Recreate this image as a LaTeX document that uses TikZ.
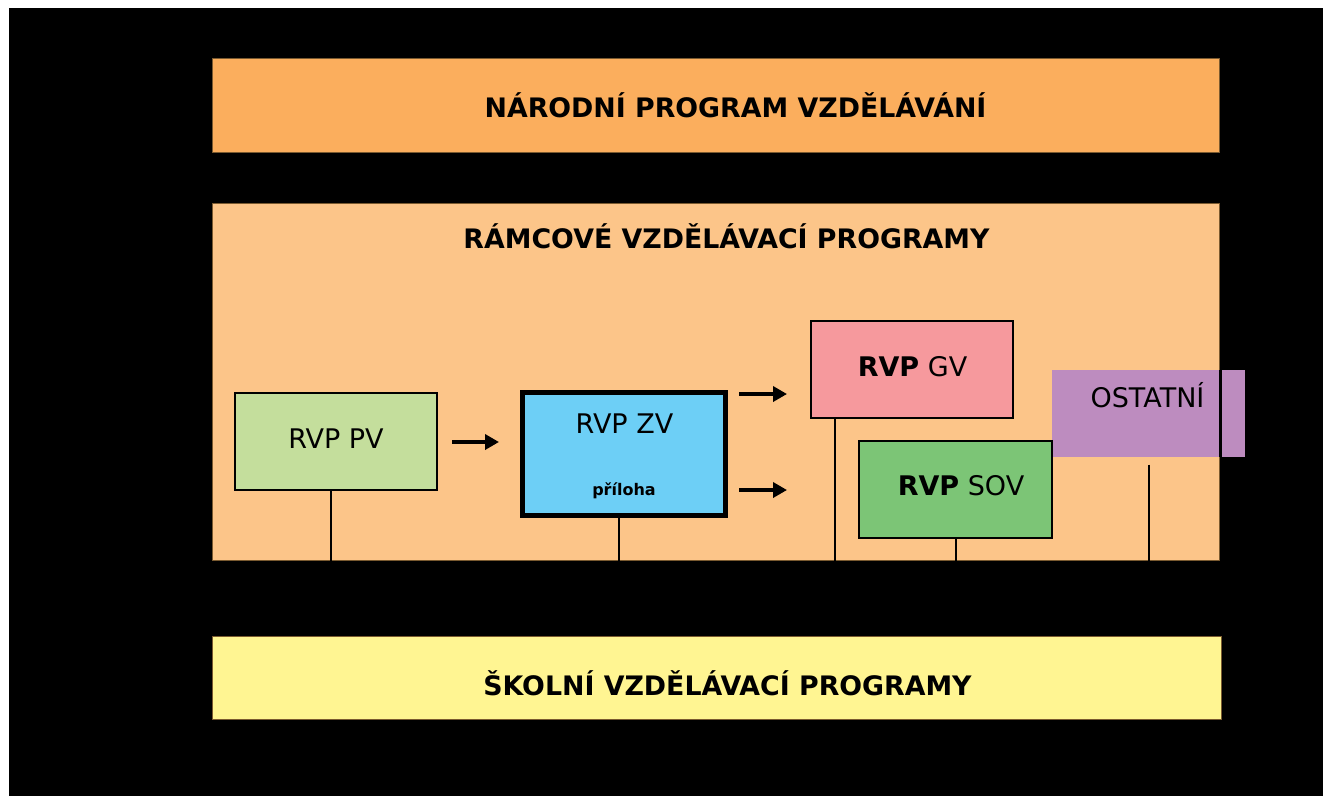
\documentclass[tikz,border=0pt]{standalone}
\usepackage{fontspec}
\setmainfont{DejaVu Sans}
\usetikzlibrary{arrows.meta}
\definecolor{npvc}{HTML}{FBAE5D}
\definecolor{rvpc}{HTML}{FCC589}
\definecolor{svpc}{HTML}{FFF592}
\definecolor{pvc}{HTML}{C4DE9C}
\definecolor{zvc}{HTML}{6DCFF6}
\definecolor{gvc}{HTML}{F6999D}
\definecolor{sovc}{HTML}{7CC576}
\definecolor{ostc}{HTML}{BD8CBF}
\definecolor{edgec}{HTML}{7A5A30}
\begin{document}
\begin{tikzpicture}[x=1pt,y=-1pt,
  bigbox/.style={draw=edgec,line width=1pt,inner sep=0pt,rectangle},
  sbox/.style={draw=black,line width=2.5pt,inner sep=0pt,rectangle},
  ttl/.style={font=\bfseries\fontsize{26.8}{30}\selectfont,inner sep=0pt,anchor=base},
  lbl/.style={font=\fontsize{27}{30}\selectfont,inner sep=0pt},
  conn/.style={line width=2pt},
  arr/.style={line width=3.5pt,-{Triangle[length=14pt,width=15pt]}}]
\useasboundingbox (0,0) rectangle (1323,796);
\fill[white] (0,0) rectangle (1323,796);
\fill[black] (9,8) rectangle (1323,796);
% big boxes
\node[bigbox,fill=npvc,minimum width=1007,minimum height=94] (npv) at (715.5,105) {};
\node[bigbox,fill=rvpc,minimum width=1007,minimum height=357] (rvp) at (715.5,381.5) {};
\node[bigbox,fill=svpc,minimum width=1009,minimum height=83] (svp) at (716.5,677.5) {};
\node[ttl] (npvt) at (735.5,117) {NÁRODNÍ PROGRAM VZDĚLÁVÁNÍ};
\node[ttl] (rvpt) at (726.5,248) {RÁMCOVÉ VZDĚLÁVACÍ PROGRAMY};
\node[ttl] (svpt) at (727.5,695) {ŠKOLNÍ VZDĚLÁVACÍ PROGRAMY};
% small boxes
\node[sbox,fill=pvc,minimum width=202,minimum height=97] (pv) at (336,441.5) {};
\node[sbox,fill=zvc,line width=5pt,minimum width=203,minimum height=123] (zv) at (623.5,453.5) {};
\node[sbox,fill=gvc,minimum width=202,minimum height=97] (gv) at (912,369.5) {};
\node[fill=ostc,inner sep=0pt,minimum width=193,minimum height=87] (ost) at (1148.5,413) {};
\draw[line width=3pt,black] (1220,369.5) -- (1220,456.5);
\node[sbox,fill=sovc,minimum width=193,minimum height=97] (sov) at (955.5,489.5) {};
% labels
\node[lbl] (pvl) at (336,439) {RVP PV};
\node[lbl] (zvl) at (624.5,424) {RVP ZV};
\node[font=\bfseries\fontsize{16}{18}\selectfont,inner sep=0pt,anchor=base] (zvp) at (624,495) {příloha};
\node[lbl] (gvl) at (912.5,367) {\textbf{RVP} GV};
\node[lbl] (sovl) at (961,486) {\textbf{RVP} SOV};
\node[lbl,anchor=base] (ostl) at (1147.5,407) {OSTATNÍ};
% connectors to bottom of RVP box
\draw[conn] ([xshift=-5pt]pv.south) -- ([xshift=-5pt]pv.south |- rvp.south);
\draw[conn] ([xshift=-4.5pt]zv.south) -- ([xshift=-4.5pt]zv.south |- rvp.south);
\draw[conn] ([xshift=25pt]gv.south west) -- ([xshift=25pt]gv.south west |- rvp.south);
\draw[conn] (sov.south) -- (sov.south |- rvp.south);
\draw[conn] ([yshift=-8pt]ost.south) -- (ost.south |- rvp.south);
% arrows
\coordinate (a1s) at (452,442); \coordinate (a1e) at (499,442);
\coordinate (a2s) at (739,394); \coordinate (a2e) at (787,394);
\coordinate (a3s) at (739,490); \coordinate (a3e) at (787,490);
\draw[arr] (a1s) -- (a1e);
\draw[arr] (a2s) -- (a2e);
\draw[arr] (a3s) -- (a3e);
\end{tikzpicture}
\end{document}
